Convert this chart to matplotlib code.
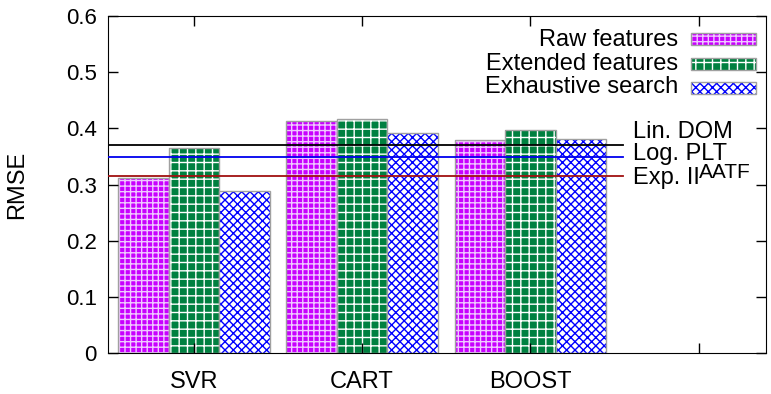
import matplotlib.pyplot as plt
from matplotlib.patches import Rectangle
import numpy as np

plt.rcParams['font.family'] = ['Liberation Sans', 'DejaVu Sans']
plt.rcParams['hatch.linewidth'] = 1.0

# Data
methods = ['SVR', 'CART', 'BOOST', '']
raw = [0.311, 0.414, 0.379]
extended = [0.365, 0.416, 0.398]
exhaustive = [0.288, 0.392, 0.382]

baseline_names = ['Lin. DOM', 'Log. PLT', 'Exp. II']
baseline_values = [0.371, 0.349, 0.315]
baseline_colors = ['#000000', '#0000ee', '#a01010']

series_labels = ['Raw features', 'Extended features', 'Exhaustive search']
styles = [
    dict(facecolor='#c800ff', edgecolor='#f0c8ff', hatch='+++'),
    dict(facecolor='#008040', edgecolor='white', hatch='++'),
    dict(facecolor='white', edgecolor='#0000ff', hatch='xxxx'),
]

FS = 17      # words
FS_NUM = 16  # y tick numbers

fig = plt.figure(figsize=(7.71, 3.94), dpi=100)
ax = fig.add_axes([0.140, 0.104, 0.8535, 0.855])

x = np.arange(len(raw))
w = 0.3

for vals, off, st in zip([raw, extended, exhaustive], [-w, 0, w], styles):
    ax.bar(x + off, vals, w, linewidth=0, **st)
    ax.bar(x + off, vals, w, facecolor='none', edgecolor='#a0a0a0', linewidth=1.0)

# baseline lines
for v, c in zip(baseline_values, baseline_colors):
    ax.plot([-0.51, 2.55], [v, v], color=c, linewidth=1.3, zorder=5)

label_y = [0.383, 0.344, 0.301]
for name, ly in zip(baseline_names, label_y):
    t = ax.text(2.607, ly, name, fontsize=FS, va='baseline', ha='left')
ax.annotate('AATF', xy=(1.0, 0.0), xycoords=t, xytext=(0, 8), textcoords='offset points',
            fontsize=15, va='baseline', ha='left')

# legend drawn by hand (text right-aligned, sample box on the right)
text_y = [0.911, 0.840, 0.7715]
box_y = [0.914, 0.840, 0.7685]
for lab, ty, by, st in zip(series_labels, text_y, box_y, styles):
    ax.text(0.866, ty, lab, transform=ax.transAxes, fontsize=FS, ha='right', va='baseline')
    ax.add_patch(Rectangle((0.886, by), 0.0988, 0.036, transform=ax.transAxes,
                           linewidth=0, **st))
    ax.add_patch(Rectangle((0.886, by), 0.0988, 0.036, transform=ax.transAxes,
                           facecolor='none', edgecolor='#a0a0a0', linewidth=1.0))

ax.set_xlim(-0.51, 3.4)
ax.set_ylim(0, 0.6)
ax.set_xticks(range(len(methods)))
ax.set_xticklabels(methods, fontsize=FS)
ax.set_yticks(np.arange(0, 0.61, 0.1))
ax.set_yticklabels(['0', '0.1', '0.2', '0.3', '0.4', '0.5', '0.6'], fontsize=FS_NUM)
ax.tick_params(direction='in', length=7, top=True, right=True, width=1)
ax.tick_params(axis='x', pad=13)
ax.tick_params(axis='y', pad=8)
ax.set_ylabel('RMSE', fontsize=FS)
ax.yaxis.set_label_coords(-0.122, 0.5)

fig.savefig('out.png', dpi=100)
